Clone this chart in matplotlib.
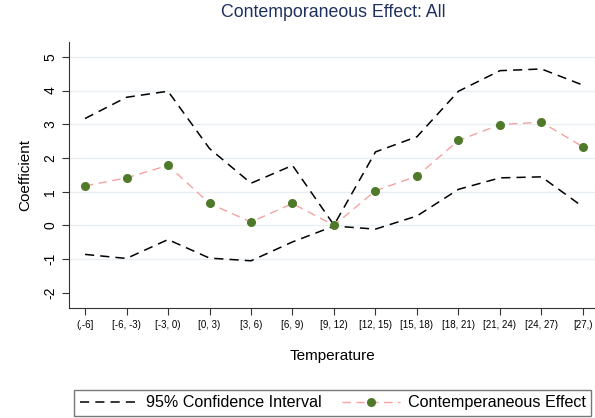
import numpy as np
import matplotlib.pyplot as plt

plt.rcParams['font.family'] = ['Liberation Sans', 'DejaVu Sans']

# temperature bins
bins = ['(,-6]', '[-6, -3)', '[-3, 0)', '[0, 3)', '[3, 6)', '[6, 9)', '[9, 12)',
        '[12, 15)', '[15, 18)', '[18, 21)', '[21, 24)', '[24, 27)', '[27,)']

# point estimates and 95% bounds
effect = [1.17, 1.41, 1.78, 0.65, 0.10, 0.65, 0.0, 1.03, 1.46, 2.52, 2.99, 3.06, 2.33]
ci_upper = [3.17, 3.80, 3.98, 2.28, 1.25, 1.78, 0.01, 2.18, 2.63, 3.98, 4.59, 4.64, 4.16]
ci_lower = [-0.86, -0.98, -0.42, -0.97, -1.05, -0.49, -0.02, -0.11, 0.28, 1.07, 1.41, 1.44, 0.55]

yticks = [-2, -1, 0, 1, 2, 3, 4, 5]

x = np.arange(len(bins))

fig = plt.figure(figsize=(5.95, 4.18), dpi=100)
ax = fig.add_axes([69/595, 1 - 308/418, 1 - 69/595, (308 - 42)/418])

for v in yticks[1:]:
    ax.axhline(v, color='#e8eef2', lw=1.0, zorder=0)

ci_style = dict(color='black', ls=(0, (6, 4)), lw=1.1)
ax.plot(x, ci_upper, **ci_style, label='95% Confidence Interval')
ax.plot(x, ci_lower, **ci_style)
ax.plot(x, effect, color='#f4a3a3', ls=(0, (6, 4)), lw=1.0,
        marker='o', ms=5.5, mfc='#4e7a2a', mec='#4e7a2a', label='Contemperaneous Effect')

ax.set_xlim(-0.386, 12.29)
ax.set_ylim(-2.45, 5.44)
ax.set_xticks(x)
ax.set_xticklabels(bins, fontsize=7)
ax.set_yticks(yticks)
ax.set_yticklabels([str(v) for v in yticks], rotation=90, va='center', fontsize=10)
ax.tick_params(direction='out', length=5, color='#333333')
for s in ['top', 'right']:
    ax.spines[s].set_visible(False)
for s in ['left', 'bottom']:
    ax.spines[s].set_color('#333333')

ax.set_ylabel('Coefficient', fontsize=11, labelpad=8)
ax.set_xlabel('Temperature', fontsize=11, labelpad=14)
fig.text(0.56, 0.97, 'Contemporaneous Effect: All', ha='center', va='center',
         fontsize=12.8, color='#1e3060')

leg = fig.legend(loc='lower left', bbox_to_anchor=(74/595, 2/418),
                 ncol=2, fontsize=11.6, frameon=True, fancybox=False,
                 handlelength=3.6, handletextpad=0.5, columnspacing=1.25,
                 borderaxespad=0, borderpad=0.35)
leg.get_frame().set_edgecolor('#555555')
leg.get_frame().set_linewidth(1.0)

fig.savefig('out.png', dpi=100)
